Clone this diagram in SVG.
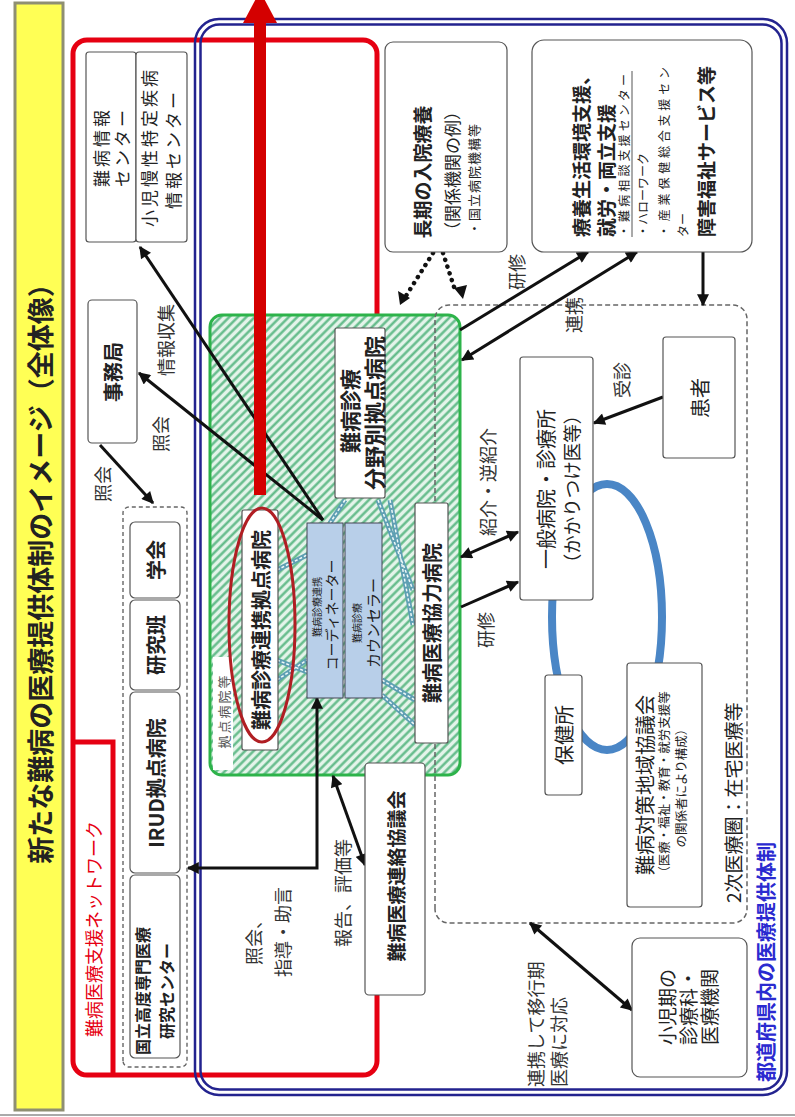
<svg xmlns="http://www.w3.org/2000/svg" width="795" height="1117" viewBox="0 0 795 1117">
<defs>
<style>
text{font-family:"Noto Sans CJK JP","Noto Sans",sans-serif;fill:#222}
.b{font-weight:bold}
.c{text-anchor:middle;dominant-baseline:central}
.l{dominant-baseline:central}
.red{fill:#e60012}
.blue{fill:#2a2ad0}
.gray{fill:#555}
.box{fill:#fff;stroke:#555;stroke-width:1.2}
.cn{fill:none;stroke:#111;stroke-width:3}
.dot{fill:none;stroke:#111;stroke-width:4.5;stroke-linecap:round;stroke-dasharray:0.1 7}
.teal{fill:none;stroke:#5e9fb3;stroke-width:5}
.tealc{fill:none;stroke:#eef8f8;stroke-width:1.5;stroke-dasharray:3 2}
.lbl{font-size:18px;fill:#333}
</style>
<pattern id="hatch" width="6" height="6" patternUnits="userSpaceOnUse" patternTransform="rotate(-45)">
<rect width="6" height="6" fill="#e4f4ea"/>
<line x1="1.5" y1="0" x2="1.5" y2="6" stroke="#5cb885" stroke-width="2.3"/>
</pattern>
<marker id="ah" viewBox="0 0 10 10" refX="9" refY="5" markerWidth="14" markerHeight="12" markerUnits="userSpaceOnUse" orient="auto-start-reverse">
<path d="M0,0 L10,5 L0,10 z" fill="#111"/>
</marker>
</defs>
<rect width="795" height="1117" fill="#fff"/>
<g transform="translate(0,1117) rotate(-90)">

<g id="title-bar">
<rect x="7" y="15" width="1107" height="48" fill="#ffff55" stroke="#8f8f72" stroke-width="3"/>
<text class="b c" x="550" y="39" font-size="27">新たな難病の医療提供体制のイメージ（全体像）</text>
</g>
<line x1="2" y1="0" x2="2" y2="795" stroke="#aaa" stroke-width="2"/>

<g id="support-network">
<rect x="42" y="73" width="1035" height="304" rx="14" fill="none" stroke="#e60012" stroke-width="5"/>
<path d="M42,113 H375 V73" fill="none" stroke="#e60012" stroke-width="5"/>
<text class="l red" x="80" y="93" font-size="18">難病医療支援ネットワーク</text>
</g>

<g id="prefecture-system">
<rect x="22" y="195" width="1076" height="592" rx="24" fill="none" stroke="#23238f" stroke-width="2.5"/>
<rect x="27.5" y="200.5" width="1065" height="581" rx="19" fill="none" stroke="#23238f" stroke-width="2.5"/>
<text class="l b blue" x="35" y="765" font-size="20">都道府県内の医療提供体制</text>
</g>

<g id="hub-area">
<rect x="342" y="210" width="460" height="250" rx="12" fill="url(#hatch)" stroke="#2db34a" stroke-width="3"/>
<rect x="347" y="213" width="113" height="20" fill="#fff"/>
<text class="c gray" x="406" y="223" font-size="13" letter-spacing="2">拠点病院等</text>
</g>

<g id="secondary-area">
<rect x="194" y="435" width="618" height="312" rx="14" fill="none" stroke="#666" stroke-width="1.5" stroke-dasharray="5 3"/>
<text class="l" x="214" y="732" font-size="19">2次医療圏：在宅医療等</text>
</g>

<g id="connectors">
<ellipse cx="500" cy="607" rx="133" ry="55" fill="none" stroke="#4a86c6" stroke-width="8"/>
<path class="teal" d="M617,378 L527,413 M617,390 L492,413 M437,382 L417,415 M422,382 L392,415 M547,277 L562,307 M457,277 L445,307 M437,277 L457,307 M617,345 L594,330"/>
<path class="tealc" d="M617,378 L527,413 M617,390 L492,413 M437,382 L417,415 M422,382 L392,415 M547,277 L562,307 M457,277 L445,307 M437,277 L457,307 M617,345 L594,330"/>
<line class="cn" x1="597" y1="323" x2="870" y2="140" marker-end="url(#ah)"/>
<line class="cn" x1="597" y1="323" x2="744" y2="139" marker-end="url(#ah)"/>
<line class="cn" x1="672" y1="100" x2="614" y2="153" marker-end="url(#ah)"/>
<polyline class="cn" points="419,317 249,317 249,188" marker-start="url(#ah)" marker-end="url(#ah)"/>
<line class="cn" x1="341" y1="333" x2="252" y2="365" marker-start="url(#ah)" marker-end="url(#ah)"/>
<line class="dot" x1="864" y1="433" x2="818" y2="404"/>
<line class="dot" x1="864" y1="443" x2="824" y2="456"/>
<path d="M812,400 L826,398 L819,410 z M818,463 L829,454 L832,467 z" fill="#111"/>
<line class="cn" x1="787" y1="460" x2="865" y2="588" marker-end="url(#ah)"/>
<line class="cn" x1="757" y1="462" x2="865" y2="637" marker-start="url(#ah)" marker-end="url(#ah)"/>
<line class="cn" x1="865" y1="703" x2="812" y2="703" marker-end="url(#ah)"/>
<line class="cn" x1="720" y1="663" x2="694" y2="594" marker-end="url(#ah)"/>
<line class="cn" x1="560" y1="461" x2="585" y2="518" marker-start="url(#ah)" marker-end="url(#ah)"/>
<line class="cn" x1="510" y1="461" x2="535" y2="518" marker-end="url(#ah)"/>
<line class="cn" x1="194" y1="530" x2="107" y2="632" marker-start="url(#ah)" marker-end="url(#ah)"/>
<line x1="622" y1="260" x2="1096" y2="260" stroke="#d40000" stroke-width="12"/>
<polygon points="1094,243 1094,277 1126,260" fill="#d40000"/>
<text class="c lbl" x="777" y="165" font-size="19">情報収集</text>
<text class="c lbl" x="683" y="160">照会</text>
<text class="c lbl" x="633" y="102">照会</text>
<text class="c lbl" x="179" y="253">照会、</text>
<text class="c lbl" x="185" y="282">指導・助言</text>
<text class="c lbl" x="224" y="342" font-size="19">報告、評価等</text>
<text class="c lbl" x="845" y="516">研修</text>
<text class="c lbl" x="802" y="573" font-size="17">連携</text>
<text class="c lbl" x="737" y="621">受診</text>
<text class="c lbl" x="635" y="487" font-size="19">紹介・逆紹介</text>
<text class="c lbl" x="487" y="485">研修</text>
<text class="l lbl" x="30" y="535" font-size="20">連携して移行期</text>
<text class="l lbl" x="30" y="558" font-size="19">医療に対応</text>
</g>

<g id="node-info-center">
<rect class="box" x="875" y="86" width="190" height="50" rx="3"/>
<text class="c" x="970" y="100" font-size="17" letter-spacing="3">難病情報</text>
<text class="c" x="970" y="121" font-size="17" letter-spacing="3">センター</text>
</g>
<g id="node-child-info-center">
<rect class="box" x="875" y="136" width="190" height="51" rx="3"/>
<text class="c" x="970" y="148" font-size="17" letter-spacing="3">小児慢性特定疾病</text>
<text class="c" x="968" y="172" font-size="17" letter-spacing="3">情報センター</text>
</g>
<g id="node-secretariat">
<rect class="box" x="674" y="88" width="143" height="49" rx="4"/>
<text class="c b" x="745" y="112" font-size="20">事務局</text>
</g>
<g id="node-research-group">
<rect x="50" y="123" width="560" height="64" rx="6" fill="#fff" stroke="#666" stroke-width="1.4" stroke-dasharray="4 3"/>
<rect class="box" x="519" y="130" width="76" height="50" rx="5"/>
<text class="c b" x="557" y="155" font-size="20">学会</text>
<rect class="box" x="427" y="130" width="90" height="50" rx="5"/>
<text class="c b" x="472" y="155" font-size="20">研究班</text>
<rect class="box" x="244" y="130" width="181" height="50" rx="5"/>
<text class="c b" x="334" y="155" font-size="20">IRUD拠点病院</text>
<rect class="box" x="59" y="130" width="183" height="50" rx="5"/>
<text class="c b" x="126" y="142" font-size="16">国立高度専門医療</text>
<text class="c b" x="126" y="166" font-size="16">研究センター</text>
</g>
<g id="node-liaison-council">
<rect class="box" x="122" y="365" width="232" height="60" rx="4"/>
<text class="c b" x="241" y="395" font-size="19">難病医療連絡協議会</text>
</g>
<g id="node-base-hospital">
<rect class="box" x="367" y="242" width="240" height="36" rx="2"/>
<text class="c b" x="487" y="260" font-size="20">難病診療連携拠点病院</text>
<ellipse cx="492" cy="262" rx="117" ry="33" fill="none" stroke="#b01e23" stroke-width="3"/>
</g>
<g id="node-coordinator">
<rect x="419" y="307" width="175" height="36" fill="#b8cfe9" stroke="#445" stroke-width="1"/>
<text class="c" x="510" y="316" font-size="10">難病診療連携</text>
<text class="c" x="502" y="331" font-size="14">コーディネーター</text>
</g>
<g id="node-counselor">
<rect x="419" y="345" width="175" height="37" fill="#b8cfe9" stroke="#445" stroke-width="1"/>
<text class="c" x="494" y="356" font-size="10">難病診療</text>
<text class="c" x="494" y="372" font-size="15">カウンセラー</text>
</g>
<g id="node-field-hospital">
<rect class="box" x="619" y="335" width="170" height="50" rx="2"/>
<text class="c b" x="706" y="349" font-size="21">難病診療</text>
<text class="c b" x="704" y="373" font-size="22">分野別拠点病院</text>
</g>
<g id="node-cooperating-hospital">
<rect class="box" x="374" y="415" width="240" height="33" rx="2"/>
<text class="c b" x="494" y="431" font-size="20">難病医療協力病院</text>
</g>
<g id="node-long-term">
<rect class="box" x="865" y="385" width="210" height="122" rx="8"/>
<text class="c b" x="945" y="421" font-size="19">長期の入院療養</text>
<text class="c" x="946" y="451" font-size="17">（関係機関の例）</text>
<text class="c" x="938" y="473" font-size="13" letter-spacing="1">・国立病院機構等</text>
</g>
<g id="node-life-support">
<rect class="box" x="865" y="532" width="212" height="220" rx="12"/>
<text class="l b" x="880" y="580" font-size="19">療養生活環境支援、</text>
<text class="l b" x="880" y="605" font-size="19">就労・両立支援</text>
<text class="l" x="880" y="623" font-size="12" textLength="163">・難病相談支援センター</text>
<line x1="880" y1="632" x2="1046" y2="632" stroke="#555" stroke-width="1"/>
<text class="l" x="880" y="642" font-size="12">・ハローワーク</text>
<text class="l" x="880" y="663" font-size="12" textLength="170">・産業保健総合支援セン</text>
<text class="l" x="880" y="682" font-size="12">ター</text>
<text class="l b" x="880" y="705" font-size="19">障害福祉サービス等</text>
</g>
<g id="node-general-hospital">
<rect class="box" x="517" y="520" width="243" height="73" rx="3"/>
<text class="c" x="628" y="545" font-size="20">一般病院・診療所</text>
<text class="c" x="628" y="571" font-size="18.5">（かかりつけ医等）</text>
</g>
<g id="node-patient">
<rect class="box" x="659" y="663" width="121" height="72" rx="3"/>
<text class="c" x="719" y="699" font-size="20">患者</text>
</g>
<g id="node-health-center">
<rect class="box" x="322" y="545" width="120" height="37" rx="3"/>
<text class="c" x="382" y="563" font-size="20">保健所</text>
</g>
<g id="node-regional-council">
<rect class="box" x="210" y="627" width="244" height="75" rx="3"/>
<text class="c" x="332" y="644" font-size="20">難病対策地域協議会</text>
<text class="c" x="332" y="663" font-size="12.5">（医療・福祉・教育・就労支援等</text>
<text class="c" x="332" y="680" font-size="12.5">の関係者により構成）</text>
</g>
<g id="node-pediatric">
<rect class="box" x="40" y="632" width="139" height="115" rx="8"/>
<text class="c" x="110" y="666" font-size="19">小児期の</text>
<text class="c" x="110" y="687" font-size="19">診療科・</text>
<text class="c" x="110" y="708" font-size="19">医療機関</text>
</g>
</g>
</svg>
